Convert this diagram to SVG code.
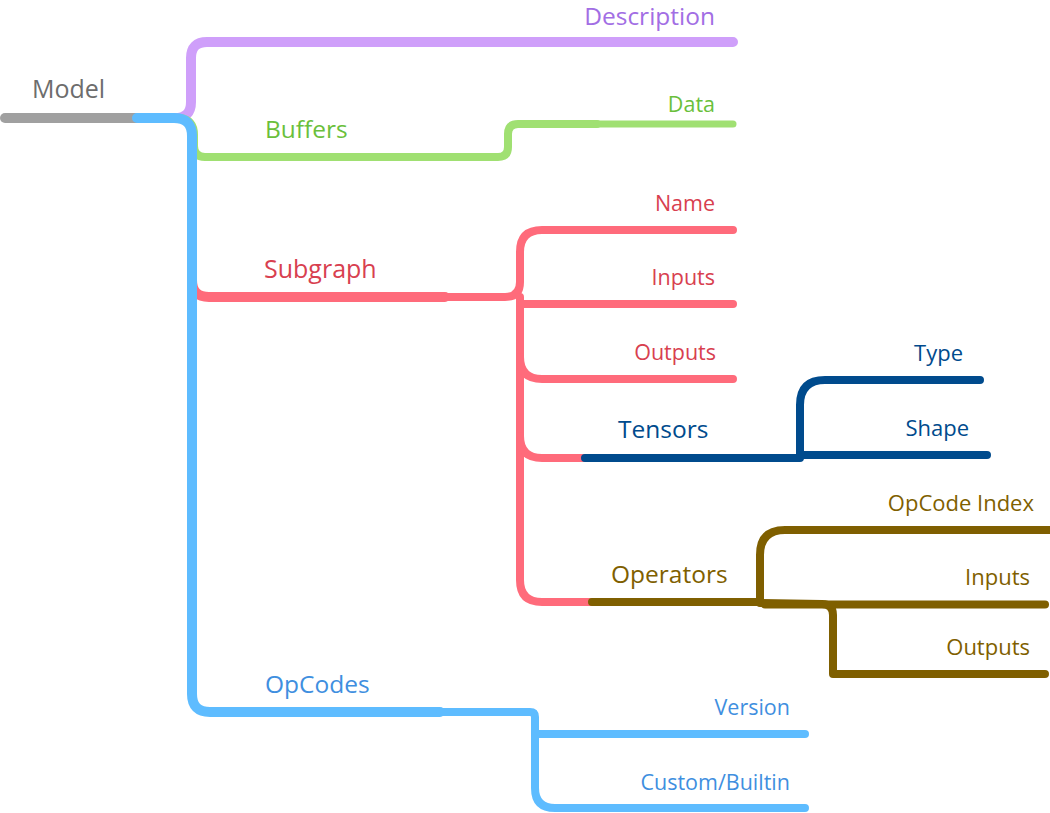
<svg xmlns="http://www.w3.org/2000/svg" width="1050" height="813" viewBox="0 0 1050 813">
<style>
text{font-family:"Open Sans","Noto Sans","Liberation Sans",sans-serif}
.l1{font-size:24.5px}
.l2{font-size:21.5px}
.l3{font-size:22px}
.c{fill:none;stroke-linecap:round;stroke-linejoin:round}
.w10{stroke-width:10}
.w8{stroke-width:8}
.gray{stroke:#a0a0a0}
.pur{stroke:#cf9ffa}
.grn{stroke:#a0e072}
.blu{stroke:#5ebcff}
.red{stroke:#ff6b7b}
.dbl{stroke:#004b8d}
.brn{stroke:#7f5f00}
.e{text-anchor:end}
</style>
<rect width="1050" height="813" fill="#ffffff"/>
<g id="connectors">
  <path class="c w10 pur" d="M175 118 Q191 118 191 102 L191 58 Q191 42 207 42 L733 42"/>
  <path class="c w8 grn" d="M180 118 Q194 120 194 135 L194 146 Q194 157 205 157 L498 157 Q508 157 508 147 L508 134 Q508 124 518 124 L597 124"/>
  <path class="c grn" stroke-width="7" d="M597 124 L733 124"/>
  <path class="c w10 red" d="M192 280 Q192 297 209 297 L445 297"/>
  <path class="c w10 gray" d="M5 118 L137 118"/>
  <path class="c w10 blu" d="M137 118 L174 118 Q192 118 192 136 L192 694 Q192 712 210 712 L440 712"/>
  <path class="c w8 blu" d="M440 712 L530 712 Q535 712 535 717 L535 788 Q535 808 555 808 L805 808"/>
  <path class="c w8 blu" d="M535 734 L805 734"/>
  <path class="c w8 red" d="M445 297 L505 297 Q520 297 520 282 L520 252 Q520 230 542 230 L733 230"/>
  <path class="c w8 red" d="M520 297 L520 580 Q520 602 542 602 L592 602"/>
  <path class="c w8 red" d="M522 304 L733 304"/>
  <path class="c w8 red" d="M520 357 Q520 379 542 379 L733 379"/>
  <path class="c w8 red" d="M520 436 Q520 458 542 458 L585 458"/>
  <path class="c w8 dbl" d="M585 458 L800 458 L800 405 Q800 380 825 380 L980 380"/>
  <path class="c w8 dbl" d="M800 455 L987 455"/>
  <path class="c w8 brn" d="M592 602 L760 602 L760 555 Q760 530 785 530 L1050 530"/>
  <path class="c w8 brn" d="M760 603 L822 604 Q833 604 833 615 L833 674 L1045 674"/>
  <path class="c w8 brn" d="M765 604.5 L1045 604.5"/>
</g>
<g id="model"><text x="32" y="98" font-size="25" fill="#6d6d6d">Model</text></g>
<g id="description"><text class="e" x="715" y="25" font-size="24.5" fill="#a26ee4">Description</text></g>
<g id="buffers"><text class="l1" x="265" y="138" fill="#6abf3b">Buffers</text></g>
<g id="data"><text class="l2 e" x="715" y="112" fill="#6abf3b">Data</text></g>
<g id="subgraph"><text x="264" y="278" font-size="25" fill="#d8404f">Subgraph</text></g>
<g id="name"><text class="l2 e" x="715" y="211" fill="#d8404f">Name</text></g>
<g id="inputs"><text class="l2 e" x="715" y="285" fill="#d8404f">Inputs</text></g>
<g id="outputs"><text class="l2 e" x="716" y="360" fill="#d8404f">Outputs</text></g>
<g id="tensors"><text class="l1" x="618" y="438" fill="#004b8d">Tensors</text></g>
<g id="type"><text class="l3 e" x="963" y="361" fill="#004b8d">Type</text></g>
<g id="shape"><text class="l3 e" x="969" y="436" fill="#004b8d">Shape</text></g>
<g id="operators"><text class="l1" x="611" y="583" fill="#7f5f00">Operators</text></g>
<g id="opcode-index"><text class="l3 e" x="1034" y="511" fill="#7f5f00">OpCode Index</text></g>
<g id="op-inputs"><text class="l3 e" x="1030" y="585" fill="#7f5f00">Inputs</text></g>
<g id="op-outputs"><text class="l3 e" x="1030" y="655" fill="#7f5f00">Outputs</text></g>
<g id="opcodes"><text class="l1" x="265" y="693" fill="#3f8fdf">OpCodes</text></g>
<g id="version"><text class="l2 e" x="790" y="715" fill="#3f8fdf">Version</text></g>
<g id="custom-builtin"><text class="l2 e" x="790" y="790" fill="#3f8fdf">Custom/Builtin</text></g>
</svg>
